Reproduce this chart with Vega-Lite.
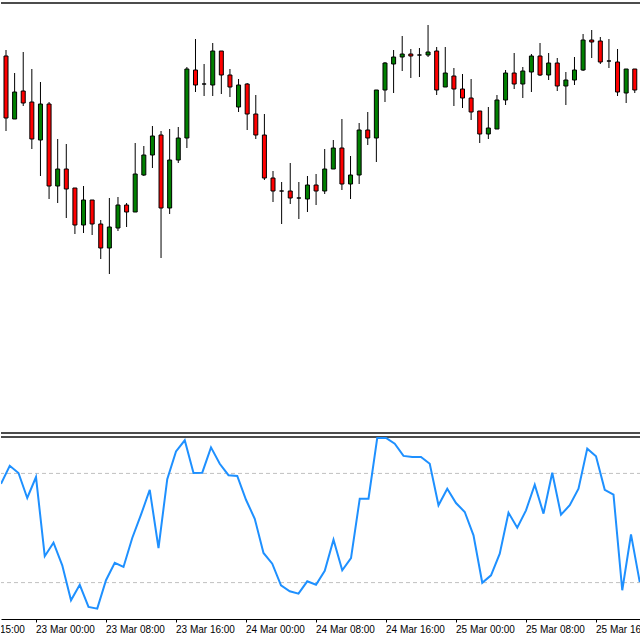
{
  "$schema": "https://vega.github.io/schema/vega-lite/v6.json",
  "padding": {"left": 0, "top": 2, "right": 0, "bottom": 0},
  "background": "white",
  "spacing": 2,
  "config": {"view": {"stroke": null}},
  "datasets": {
    "bars": [
      {"k": -4, "o": 377, "h": 383, "l": 302, "c": 315, "s": 74.3},
      {"k": -3, "o": 314, "h": 360, "l": 314, "c": 341, "s": 84.2},
      {"k": -2, "o": 342, "h": 381, "l": 327, "c": 330, "s": 80.2},
      {"k": -1, "o": 331, "h": 364, "l": 284, "c": 294, "s": 66.5},
      {"k": 0, "o": 293, "h": 351, "l": 257, "c": 329, "s": 78.0},
      {"k": 1, "o": 329, "h": 331, "l": 234, "c": 247, "s": 34.5},
      {"k": 2, "o": 247, "h": 294, "l": 230, "c": 264, "s": 41.9},
      {"k": 3, "o": 264, "h": 289, "l": 215, "c": 244, "s": 29.5},
      {"k": 4, "o": 245, "h": 245, "l": 199, "c": 208, "s": 10.3},
      {"k": 5, "o": 208, "h": 247, "l": 200, "c": 233, "s": 18.8},
      {"k": 6, "o": 233, "h": 233, "l": 198, "c": 209, "s": 6.6},
      {"k": 7, "o": 209, "h": 213, "l": 174, "c": 185, "s": 5.7},
      {"k": 8, "o": 185, "h": 235, "l": 159, "c": 206, "s": 21.3},
      {"k": 9, "o": 205, "h": 236, "l": 202, "c": 228, "s": 30.9},
      {"k": 10, "o": 228, "h": 230, "l": 206, "c": 221, "s": 28.6},
      {"k": 11, "o": 221, "h": 290, "l": 221, "c": 259, "s": 44.5},
      {"k": 12, "o": 258, "h": 287, "l": 257, "c": 278, "s": 57.3},
      {"k": 13, "o": 278, "h": 307, "l": 265, "c": 297, "s": 71.0},
      {"k": 14, "o": 298, "h": 302, "l": 175, "c": 225, "s": 39.0},
      {"k": 15, "o": 225, "h": 304, "l": 219, "c": 273, "s": 76.8},
      {"k": 16, "o": 273, "h": 306, "l": 270, "c": 295, "s": 92.1},
      {"k": 17, "o": 295, "h": 366, "l": 285, "c": 364, "s": 98.2},
      {"k": 18, "o": 363, "h": 394, "l": 341, "c": 348, "s": 80.2},
      {"k": 19, "o": 349, "h": 369, "l": 337, "c": 349, "s": 80.4},
      {"k": 20, "o": 348, "h": 390, "l": 337, "c": 382, "s": 94.3},
      {"k": 21, "o": 382, "h": 382, "l": 339, "c": 358, "s": 85.3},
      {"k": 22, "o": 358, "h": 364, "l": 336, "c": 346, "s": 79.0},
      {"k": 23, "o": 326, "h": 354, "l": 321, "c": 348, "s": 78.6},
      {"k": 24, "o": 349, "h": 350, "l": 303, "c": 319, "s": 65.5},
      {"k": 25, "o": 319, "h": 338, "l": 294, "c": 298, "s": 55.1},
      {"k": 26, "o": 298, "h": 319, "l": 253, "c": 255, "s": 36.3},
      {"k": 27, "o": 255, "h": 262, "l": 231, "c": 242, "s": 30.4},
      {"k": 28, "o": 242, "h": 251, "l": 209, "c": 242, "s": 18.5},
      {"k": 29, "o": 242, "h": 270, "l": 229, "c": 235, "s": 15.2},
      {"k": 30, "o": 235, "h": 251, "l": 214, "c": 235, "s": 13.9},
      {"k": 31, "o": 234, "h": 257, "l": 221, "c": 248, "s": 20.7},
      {"k": 32, "o": 248, "h": 259, "l": 228, "c": 242, "s": 18.8},
      {"k": 33, "o": 242, "h": 284, "l": 239, "c": 264, "s": 26.5},
      {"k": 34, "o": 264, "h": 293, "l": 264, "c": 285, "s": 43.6},
      {"k": 35, "o": 285, "h": 314, "l": 243, "c": 249, "s": 26.8},
      {"k": 36, "o": 249, "h": 277, "l": 234, "c": 258, "s": 33.5},
      {"k": 37, "o": 258, "h": 310, "l": 249, "c": 303, "s": 66.1},
      {"k": 38, "o": 303, "h": 321, "l": 288, "c": 295, "s": 66.1},
      {"k": 39, "o": 295, "h": 343, "l": 271, "c": 343, "s": 99.5},
      {"k": 40, "o": 343, "h": 371, "l": 331, "c": 370, "s": 99.5},
      {"k": 41, "o": 369, "h": 383, "l": 340, "c": 376, "s": 96.3},
      {"k": 42, "o": 376, "h": 397, "l": 362, "c": 379, "s": 89.6},
      {"k": 43, "o": 379, "h": 384, "l": 355, "c": 377, "s": 89.0},
      {"k": 44, "o": 378, "h": 385, "l": 356, "c": 378, "s": 89.0},
      {"k": 45, "o": 378, "h": 408, "l": 376, "c": 381, "s": 85.3},
      {"k": 46, "o": 382, "h": 386, "l": 338, "c": 343, "s": 62.5},
      {"k": 47, "o": 346, "h": 386, "l": 346, "c": 360, "s": 71.6},
      {"k": 48, "o": 357, "h": 365, "l": 327, "c": 344, "s": 63.7},
      {"k": 49, "o": 344, "h": 359, "l": 325, "c": 335, "s": 58.8},
      {"k": 50, "o": 335, "h": 354, "l": 313, "c": 321, "s": 46.0},
      {"k": 51, "o": 322, "h": 322, "l": 290, "c": 299, "s": 19.9},
      {"k": 52, "o": 299, "h": 326, "l": 294, "c": 305, "s": 24.0},
      {"k": 53, "o": 304, "h": 338, "l": 304, "c": 333, "s": 35.9},
      {"k": 54, "o": 333, "h": 363, "l": 328, "c": 360, "s": 58.4},
      {"k": 55, "o": 360, "h": 380, "l": 344, "c": 349, "s": 50.2},
      {"k": 56, "o": 349, "h": 366, "l": 335, "c": 362, "s": 59.7},
      {"k": 57, "o": 361, "h": 379, "l": 341, "c": 377, "s": 73.8},
      {"k": 58, "o": 377, "h": 390, "l": 357, "c": 358, "s": 57.9},
      {"k": 59, "o": 358, "h": 380, "l": 353, "c": 370, "s": 80.4},
      {"k": 60, "o": 370, "h": 375, "l": 342, "c": 347, "s": 57.3},
      {"k": 61, "o": 347, "h": 361, "l": 328, "c": 353, "s": 62.5},
      {"k": 62, "o": 353, "h": 376, "l": 348, "c": 363, "s": 71.6},
      {"k": 63, "o": 363, "h": 399, "l": 362, "c": 393, "s": 93.6},
      {"k": 64, "o": 393, "h": 403, "l": 375, "c": 391, "s": 89.4},
      {"k": 65, "o": 392, "h": 396, "l": 369, "c": 371, "s": 71.0},
      {"k": 66, "o": 372, "h": 394, "l": 365, "c": 372, "s": 68.3},
      {"k": 67, "o": 371, "h": 384, "l": 337, "c": 341, "s": 15.8},
      {"k": 68, "o": 340, "h": 364, "l": 330, "c": 364, "s": 46.5},
      {"k": 69, "o": 364, "h": 364, "l": 340, "c": 343, "s": 20.3}
    ],
    "ticks": [
      {"k": -8, "label": "22 Mar 15:00"},
      {"k": 0, "label": "23 Mar 00:00"},
      {"k": 8, "label": "23 Mar 08:00"},
      {"k": 16, "label": "23 Mar 16:00"},
      {"k": 24, "label": "24 Mar 00:00"},
      {"k": 32, "label": "24 Mar 08:00"},
      {"k": 40, "label": "24 Mar 16:00"},
      {"k": 48, "label": "25 Mar 00:00"},
      {"k": 56, "label": "25 Mar 08:00"},
      {"k": 64, "label": "25 Mar 16:00"}
    ]
  },
  "vconcat": [
    {
      "width": 640,
      "height": 430,
      "data": {"name": "bars"},
      "layer": [
        {
          "mark": {"type": "rule", "color": "#000000", "strokeWidth": 1, "clip": true},
          "encoding": {
            "x": {"field": "k", "type": "quantitative", "scale": {"domain": [-4, 69.142857], "nice": false, "zero": false}, "axis": null},
            "y": {"field": "l", "type": "quantitative", "scale": {"domain": [0, 430], "nice": false, "zero": false}, "axis": null},
            "y2": {"field": "h"}
          }
        },
        {
          "mark": {"type": "bar", "size": 4, "stroke": "#000000", "strokeWidth": 1, "clip": true},
          "encoding": {
            "x": {"field": "k", "type": "quantitative", "axis": null},
            "y": {"field": "o", "type": "quantitative", "axis": null},
            "y2": {"field": "c"},
            "fill": {"condition": {"test": "datum.c >= datum.o", "value": "#008000"}, "value": "#ff0000"}
          }
        },
        {
          "data": {"values": [{}]},
          "mark": {"type": "rule", "color": "#111111", "strokeWidth": 1.3},
          "encoding": {"y": {"datum": 430, "type": "quantitative", "axis": null}}
        },
        {
          "data": {"values": [{}]},
          "mark": {"type": "rule", "color": "#111111", "strokeWidth": 1.3},
          "encoding": {"y": {"datum": 0, "type": "quantitative", "axis": null}}
        }
      ]
    },
    {
      "spacing": 0,
      "vconcat": [
        {
          "width": 640,
          "height": 182,
          "data": {"name": "bars"},
          "layer": [
            {
              "data": {"values": [{"lvl": 80}, {"lvl": 20}]},
              "mark": {"type": "rule", "color": "#c0c0c0", "strokeDash": [4, 3], "strokeWidth": 1},
              "encoding": {"y": {"field": "lvl", "type": "quantitative", "scale": {"domain": [0, 100], "nice": false, "zero": false}, "axis": null}}
            },
            {
              "data": {"values": [{}]},
              "mark": {"type": "rule", "color": "#111111", "strokeWidth": 1.3},
              "encoding": {"y": {"datum": 100, "type": "quantitative", "axis": null}}
            },
            {
              "mark": {"type": "line", "color": "#1e90ff", "strokeWidth": 2, "clip": true},
              "encoding": {
                "x": {
                  "field": "k", "type": "quantitative",
                  "scale": {"domain": [-4, 69.142857], "nice": false, "zero": false},
                  "axis": {"values": [0, 8, 16, 24, 32, 40, 48, 56, 64], "labels": false, "ticks": true, "tickSize": 3, "tickColor": "#000000", "domainColor": "#000000", "grid": false, "title": null}
                },
                "y": {"field": "s", "type": "quantitative", "axis": null}
              }
            }
          ]
        },
        {
          "width": 640,
          "height": 13,
          "data": {"name": "ticks"},
          "mark": {"type": "text", "align": "left", "baseline": "middle", "font": "Liberation Sans", "fontSize": 10, "color": "#000000", "clip": true},
          "encoding": {
            "x": {"field": "k", "type": "quantitative", "scale": {"domain": [-4, 69.142857], "nice": false, "zero": false}, "axis": null},
            "text": {"field": "label"}
          }
        }
      ]
    }
  ]
}
